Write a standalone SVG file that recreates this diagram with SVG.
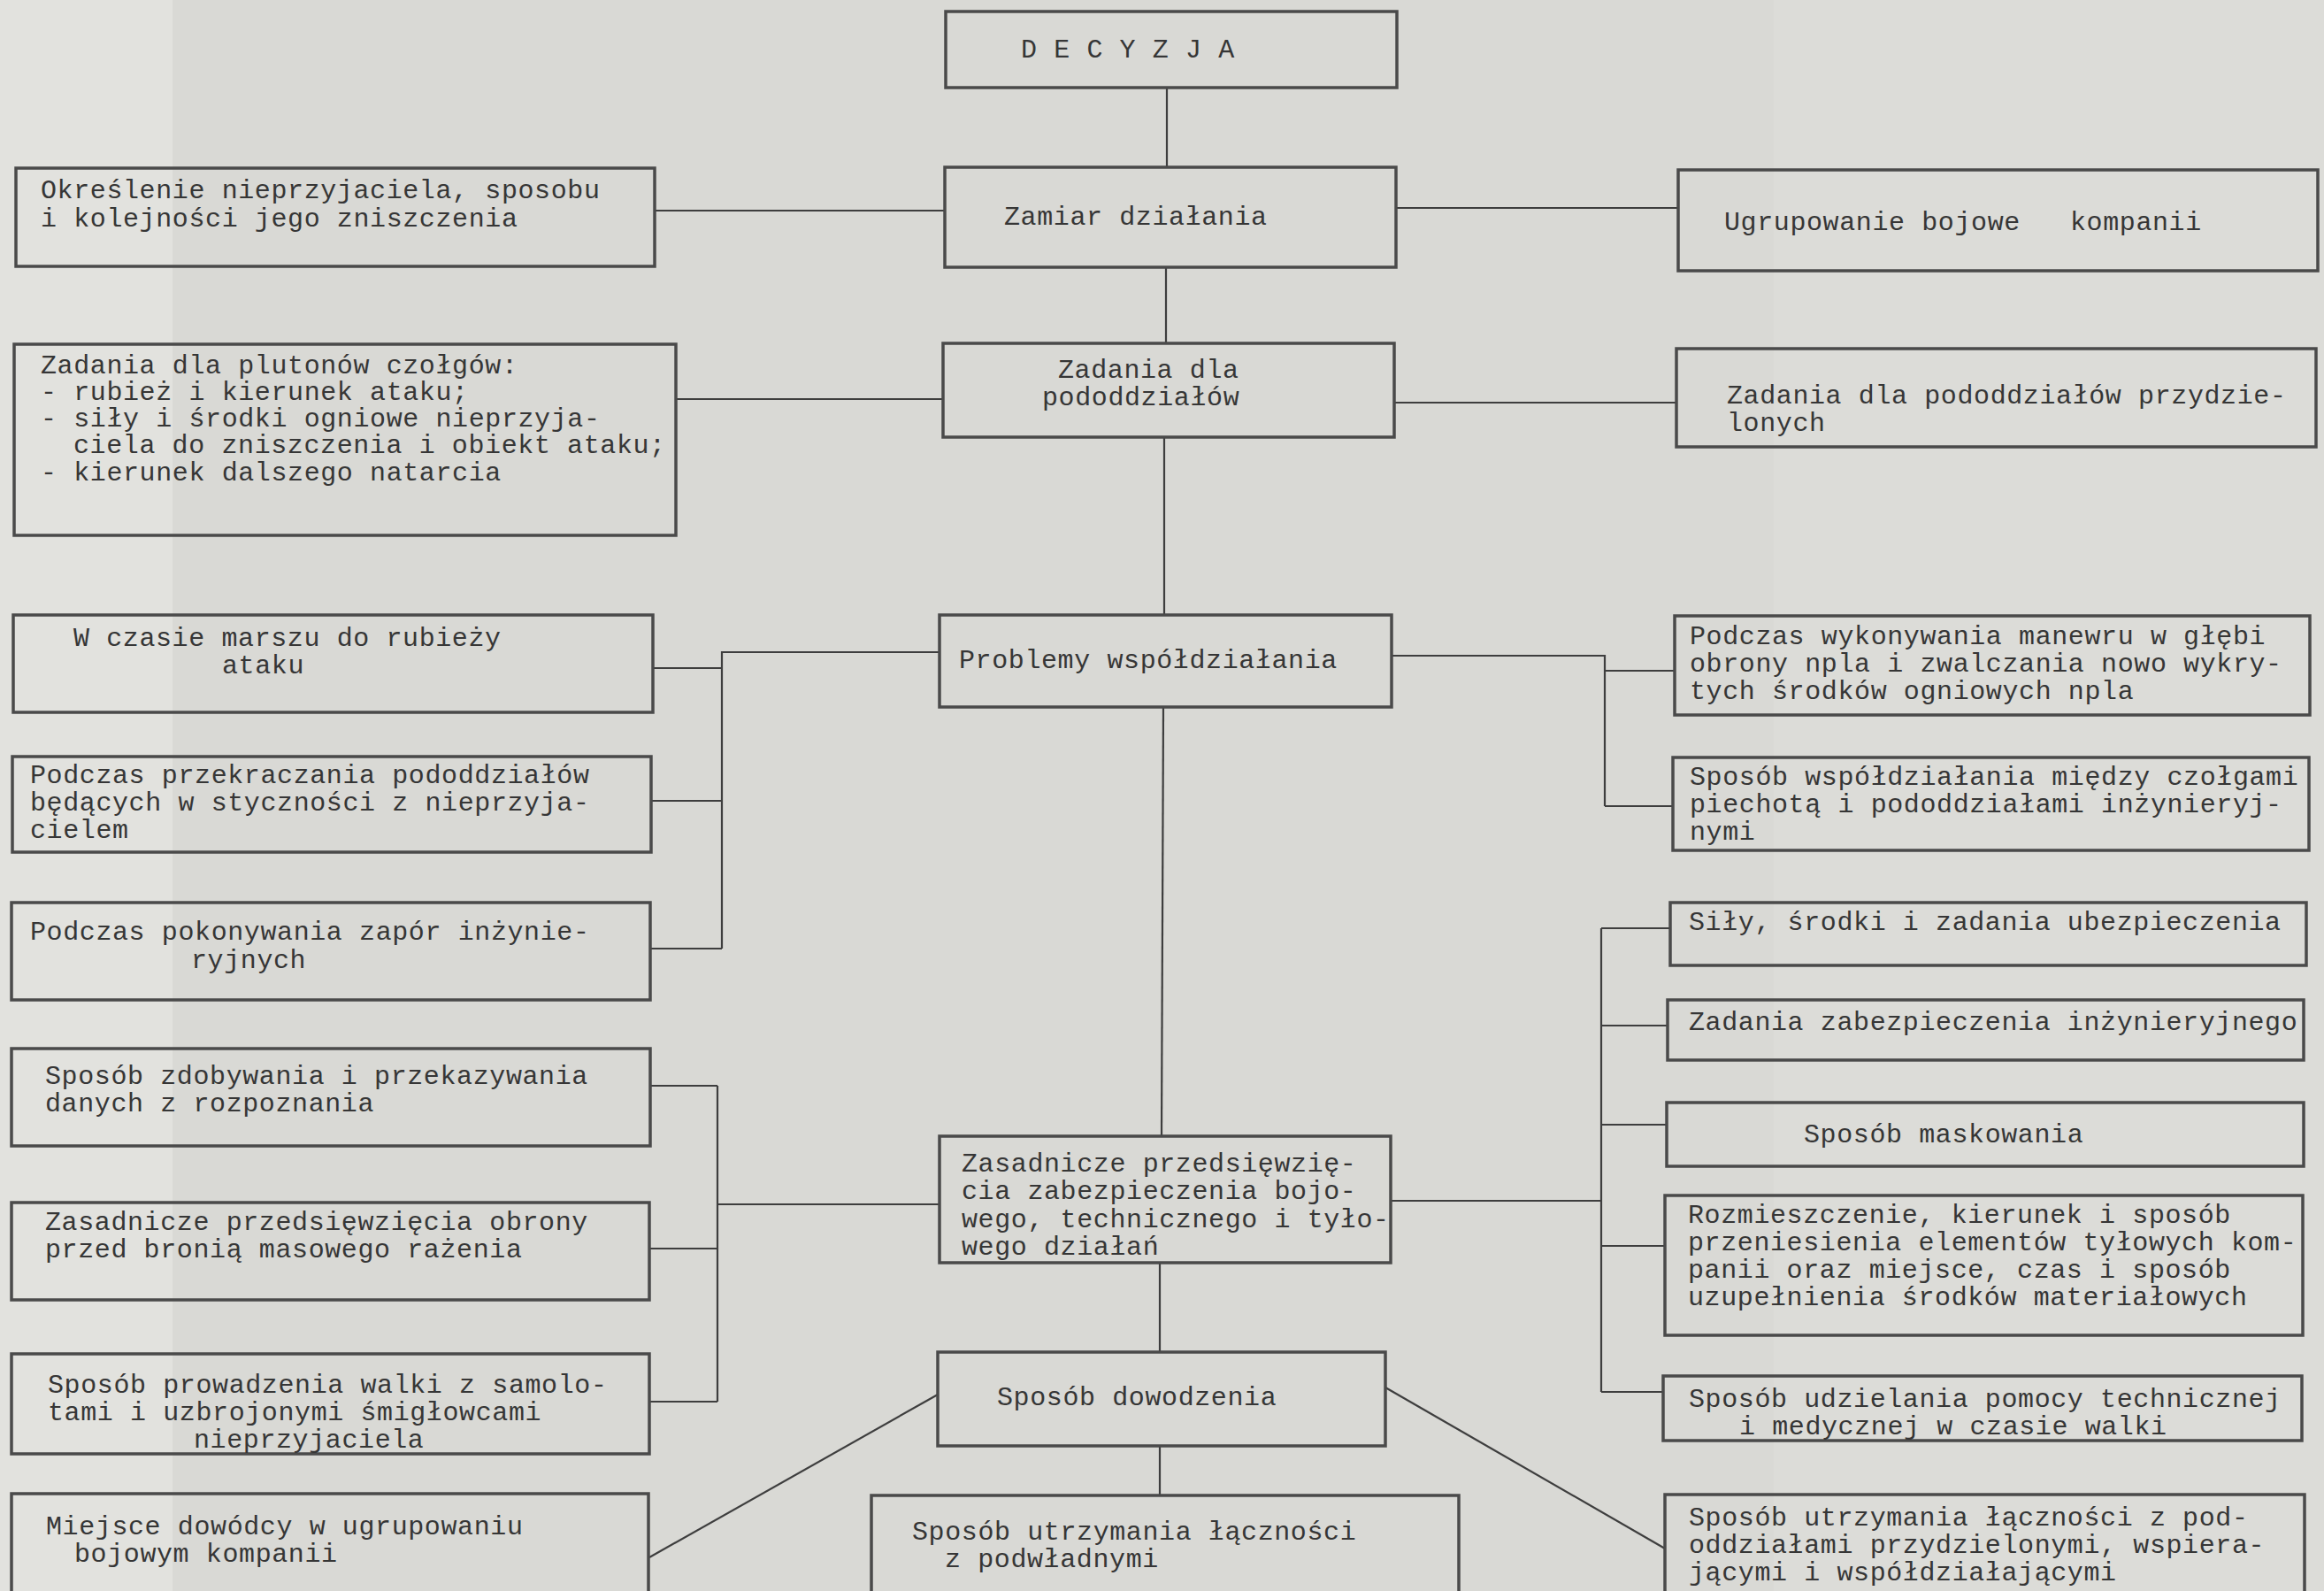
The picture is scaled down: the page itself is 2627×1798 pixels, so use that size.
<svg xmlns="http://www.w3.org/2000/svg" width="2627" height="1798" viewBox="0 0 2627 1798">
<style>
.bg{fill:#d9d9d5}
.box{fill:none;stroke:#4a4a4a;stroke-width:3.5}
.con{fill:none;stroke:#3e3e3e;stroke-width:2.2}
text{font-family:"Liberation Mono","Courier New",monospace;font-size:30px;letter-spacing:0.6px;fill:#363636}
</style>
<rect class="bg" x="0" y="0" width="2627" height="1798"/>
<rect x="0" y="0" width="195" height="1798" fill="#e2e2de"/>
<rect x="2005" y="0" width="622" height="1798" fill="#dcdcd8"/>

<g id="connectors">
<path class="con" d="M1319,99 V188"/>
<path class="con" d="M1318,302 V388"/>
<path class="con" d="M1316,494 V695"/>
<path class="con" d="M1315,799 L1313,1284"/>
<path class="con" d="M1311,1427 V1528"/>
<path class="con" d="M1311,1634 V1690"/>
<path class="con" d="M740,238 H1068"/>
<path class="con" d="M1578,235 H1897"/>
<path class="con" d="M764,451 H1066"/>
<path class="con" d="M1576,455 H1895"/>
<path class="con" d="M1062,737 H816 V1072"/>
<path class="con" d="M738,755 H816"/>
<path class="con" d="M736,905 H816"/>
<path class="con" d="M735,1072 H816"/>
<path class="con" d="M1573,741 H1814 V911"/>
<path class="con" d="M1814,758 H1893"/>
<path class="con" d="M1814,911 H1891"/>
<path class="con" d="M1062,1361 H811"/>
<path class="con" d="M811,1227 V1584"/>
<path class="con" d="M735,1227 H811"/>
<path class="con" d="M734,1411 H811"/>
<path class="con" d="M734,1584 H811"/>
<path class="con" d="M1572,1357 H1810"/>
<path class="con" d="M1810,1049 V1573"/>
<path class="con" d="M1810,1049 H1888"/>
<path class="con" d="M1810,1159 H1885"/>
<path class="con" d="M1810,1271 H1884"/>
<path class="con" d="M1810,1408 H1882"/>
<path class="con" d="M1810,1573 H1880"/>
<path class="con" d="M1060,1576 L734,1760"/>
<path class="con" d="M1566,1568 L1882,1750"/>
</g>

<g id="decyzja"><rect class="box" x="1069" y="13" width="510" height="86"/>
<text x="1154" y="65">D E C Y Z J A</text></g>

<g id="zamiar"><rect class="box" x="1068" y="189" width="510" height="113"/>
<text x="1135" y="254">Zamiar działania</text></g>

<g id="zadania"><rect class="box" x="1066" y="388" width="510" height="106"/>
<text><tspan x="1196" y="427">Zadania dla</tspan><tspan x="1178" y="458">pododdziałów</tspan></text></g>

<g id="problemy"><rect class="box" x="1062" y="695" width="511" height="104"/>
<text x="1084" y="755">Problemy współdziałania</text></g>

<g id="zasadnicze"><rect class="box" x="1062" y="1284" width="510" height="143"/>
<text><tspan x="1087" y="1324">Zasadnicze przedsięwzię-</tspan><tspan x="1087" y="1355">cia zabezpieczenia bojo-</tspan><tspan x="1087" y="1387">wego, technicznego i tyło-</tspan><tspan x="1087" y="1418">wego działań</tspan></text></g>

<g id="dowodzenie"><rect class="box" x="1060" y="1528" width="506" height="106"/>
<text x="1127" y="1588">Sposób dowodzenia</text></g>

<g id="lacznosc-podwladni"><rect class="box" x="985" y="1690" width="664" height="130"/>
<text><tspan x="1031" y="1740">Sposób utrzymania łączności</tspan><tspan x="1068" y="1771">z podwładnymi</tspan></text></g>

<g id="okreslenie"><rect class="box" x="18" y="190" width="722" height="111"/>
<text><tspan x="46" y="224">Określenie nieprzyjaciela, sposobu</tspan><tspan x="46" y="256">i kolejności jego zniszczenia</tspan></text></g>

<g id="plutony"><rect class="box" x="16" y="389" width="748" height="216"/>
<text><tspan x="46" y="422">Zadania dla plutonów czołgów:</tspan><tspan x="46" y="452">- rubież i kierunek ataku;</tspan><tspan x="46" y="482">- siły i środki ogniowe nieprzyja-</tspan><tspan x="83" y="512">ciela do zniszczenia i obiekt ataku;</tspan><tspan x="46" y="543">- kierunek dalszego natarcia</tspan></text></g>

<g id="marsz"><rect class="box" x="15" y="695" width="723" height="110"/>
<text><tspan x="83" y="730">W czasie marszu do rubieży</tspan><tspan x="251" y="761">ataku</tspan></text></g>

<g id="przekraczanie"><rect class="box" x="14" y="855" width="722" height="108"/>
<text><tspan x="34" y="885">Podczas przekraczania pododdziałów</tspan><tspan x="34" y="916">będących w styczności z nieprzyja-</tspan><tspan x="34" y="947">cielem</tspan></text></g>

<g id="zapory"><rect class="box" x="13" y="1020" width="722" height="110"/>
<text><tspan x="34" y="1062">Podczas pokonywania zapór inżynie-</tspan><tspan x="216" y="1094">ryjnych</tspan></text></g>

<g id="rozpoznanie"><rect class="box" x="13" y="1185" width="722" height="110"/>
<text><tspan x="51" y="1225">Sposób zdobywania i przekazywania</tspan><tspan x="51" y="1256">danych z rozpoznania</tspan></text></g>

<g id="obrona"><rect class="box" x="13" y="1359" width="721" height="110"/>
<text><tspan x="51" y="1390">Zasadnicze przedsięwzięcia obrony</tspan><tspan x="51" y="1421">przed bronią masowego rażenia</tspan></text></g>

<g id="samoloty"><rect class="box" x="13" y="1530" width="721" height="113"/>
<text><tspan x="54" y="1574">Sposób prowadzenia walki z samolo-</tspan><tspan x="54" y="1605">tami i uzbrojonymi śmigłowcami</tspan><tspan x="219" y="1636">nieprzyjaciela</tspan></text></g>

<g id="miejsce"><rect class="box" x="13" y="1688" width="720" height="130"/>
<text><tspan x="52" y="1734">Miejsce dowódcy w ugrupowaniu</tspan><tspan x="84" y="1765">bojowym kompanii</tspan></text></g>

<g id="ugrupowanie"><rect class="box" x="1897" y="192" width="723" height="114"/>
<text><tspan x="1949" y="260">Ugrupowanie bojowe</tspan><tspan x="2340" y="260">kompanii</tspan></text></g>

<g id="przydzielone"><rect class="box" x="1895" y="394" width="723" height="111"/>
<text><tspan x="1952" y="456">Zadania dla pododdziałów przydzie-</tspan><tspan x="1952" y="487">lonych</tspan></text></g>

<g id="manewr"><rect class="box" x="1893" y="696" width="718" height="112"/>
<text><tspan x="1910" y="728">Podczas wykonywania manewru w głębi</tspan><tspan x="1910" y="759">obrony npla i zwalczania nowo wykry-</tspan><tspan x="1910" y="790">tych środków ogniowych npla</tspan></text></g>

<g id="wspoldzialanie"><rect class="box" x="1891" y="856" width="719" height="105"/>
<text><tspan x="1910" y="887">Sposób współdziałania między czołgami</tspan><tspan x="1910" y="918">piechotą i pododdziałami inżynieryj-</tspan><tspan x="1910" y="949">nymi</tspan></text></g>

<g id="ubezpieczenie"><rect class="box" x="1888" y="1020" width="719" height="71"/>
<text x="1909" y="1051">Siły, środki i zadania ubezpieczenia</text></g>

<g id="inzynieryjne"><rect class="box" x="1885" y="1130" width="719" height="68"/>
<text x="1909" y="1164">Zadania zabezpieczenia inżynieryjnego</text></g>

<g id="maskowanie"><rect class="box" x="1884" y="1246" width="720" height="72"/>
<text x="2039" y="1291">Sposób maskowania</text></g>

<g id="tyly"><rect class="box" x="1882" y="1351" width="721" height="158"/>
<text><tspan x="1908" y="1382">Rozmieszczenie, kierunek i sposób</tspan><tspan x="1908" y="1413">przeniesienia elementów tyłowych kom-</tspan><tspan x="1908" y="1444">panii oraz miejsce, czas i sposób</tspan><tspan x="1908" y="1475">uzupełnienia środków materiałowych</tspan></text></g>

<g id="pomoc"><rect class="box" x="1880" y="1555" width="722" height="73"/>
<text><tspan x="1909" y="1590">Sposób udzielania pomocy technicznej</tspan><tspan x="1966" y="1621">i medycznej w czasie walki</tspan></text></g>

<g id="lacznosc-przydzielone"><rect class="box" x="1882" y="1689" width="723" height="130"/>
<text><tspan x="1909" y="1724">Sposób utrzymania łączności z pod-</tspan><tspan x="1909" y="1755">oddziałami przydzielonymi, wspiera-</tspan><tspan x="1909" y="1786">jącymi i współdziałającymi</tspan></text></g>
</svg>
